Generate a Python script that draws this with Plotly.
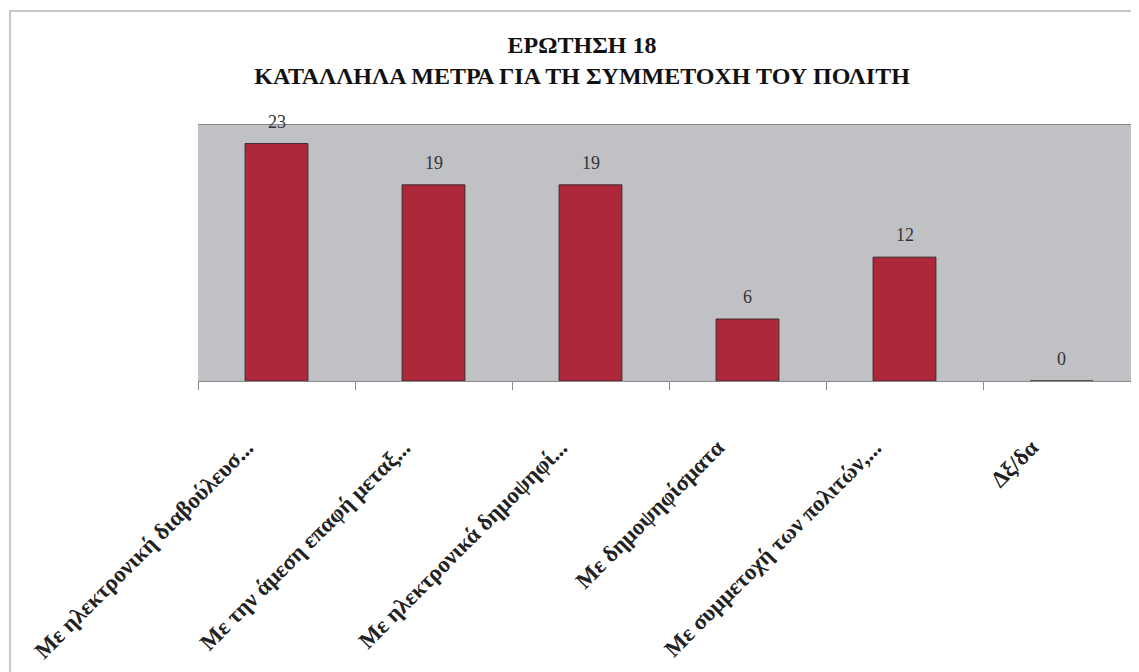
import plotly.graph_objects as go

# Δεδομένα ερώτησης 18
categories = [
    "Με ηλεκτρονική διαβούλευσ...",
    "Με την άμεση επαφή μεταξ...",
    "Με ηλεκτρονικά δημοψηφί...",
    "Με δημοψηφίσματα",
    "Με συμμετοχή των πολιτών,...",
    "Δξ/δα",
]
answers = [23, 19, 19, 6, 12, 0]

BAR_COLOR = "#AD283A"
PLOT_BG = "#C0C1C5"
SERIF = "Liberation Serif, Times New Roman, serif"

# η σελίδα έχει περιθώριο 8px γύρω από το div
L, T, B, R = 190, 117, 299, 7
PW, PH = 1139 - L - R, 672 - T - B

fig = go.Figure()

fig.add_trace(go.Bar(
    x=categories,
    y=answers,
    marker=dict(color=BAR_COLOR, line=dict(color="#3a2a2a", width=1)),
    width=0.4,
    hoverinfo="x+y",
))

# Ετικέτες τιμών πάνω από τις μπάρες
for cat, val in zip(categories, answers):
    fig.add_annotation(
        x=cat, y=val,
        text=str(val),
        showarrow=False,
        yshift=22,
        font=dict(family=SERIF, size=18, color="#333333"),
    )

fig.update_layout(
    width=1139, height=672,
    paper_bgcolor="white",
    plot_bgcolor=PLOT_BG,
    showlegend=False,
    margin=dict(l=L, r=R, t=T, b=B),
    title=dict(
        text="ΕΡΩΤΗΣΗ 18<br>ΚΑΤΑΛΛΗΛΑ ΜΕΤΡΑ ΓΙΑ ΤΗ ΣΥΜΜΕΤΟΧΗ ΤΟΥ ΠΟΛΙΤΗ",
        x=0.504, xanchor="center",
        y=1 - 45 / 672, yanchor="middle",
        font=dict(family=SERIF, size=24, color="#111111", weight="bold"),
    ),
    # εξωτερικό πλαίσιο
    shapes=[dict(
        type="rect", xref="paper", yref="paper",
        x0=(2 - L) / PW, x1=1.05, y0=-2, y1=(PH + T - 3) / PH,
        line=dict(color="#c8c8c8", width=2), layer="below",
    )],
)

fig.update_xaxes(
    showline=True, linecolor="#8a8a8a", linewidth=1, mirror=True,
    ticks="outside", tickson="boundaries", ticklen=8, tickcolor="#8a8a8a",
    tickangle=-45, ticklabelstandoff=43, ticklabelshift=-30,
    tickfont=dict(family=SERIF, size=23, color="#222222", weight="bold"),
    showgrid=False,
)
fig.update_yaxes(
    range=[0, 24.8], visible=False, showgrid=False,
)

fig.write_html("out.html")
